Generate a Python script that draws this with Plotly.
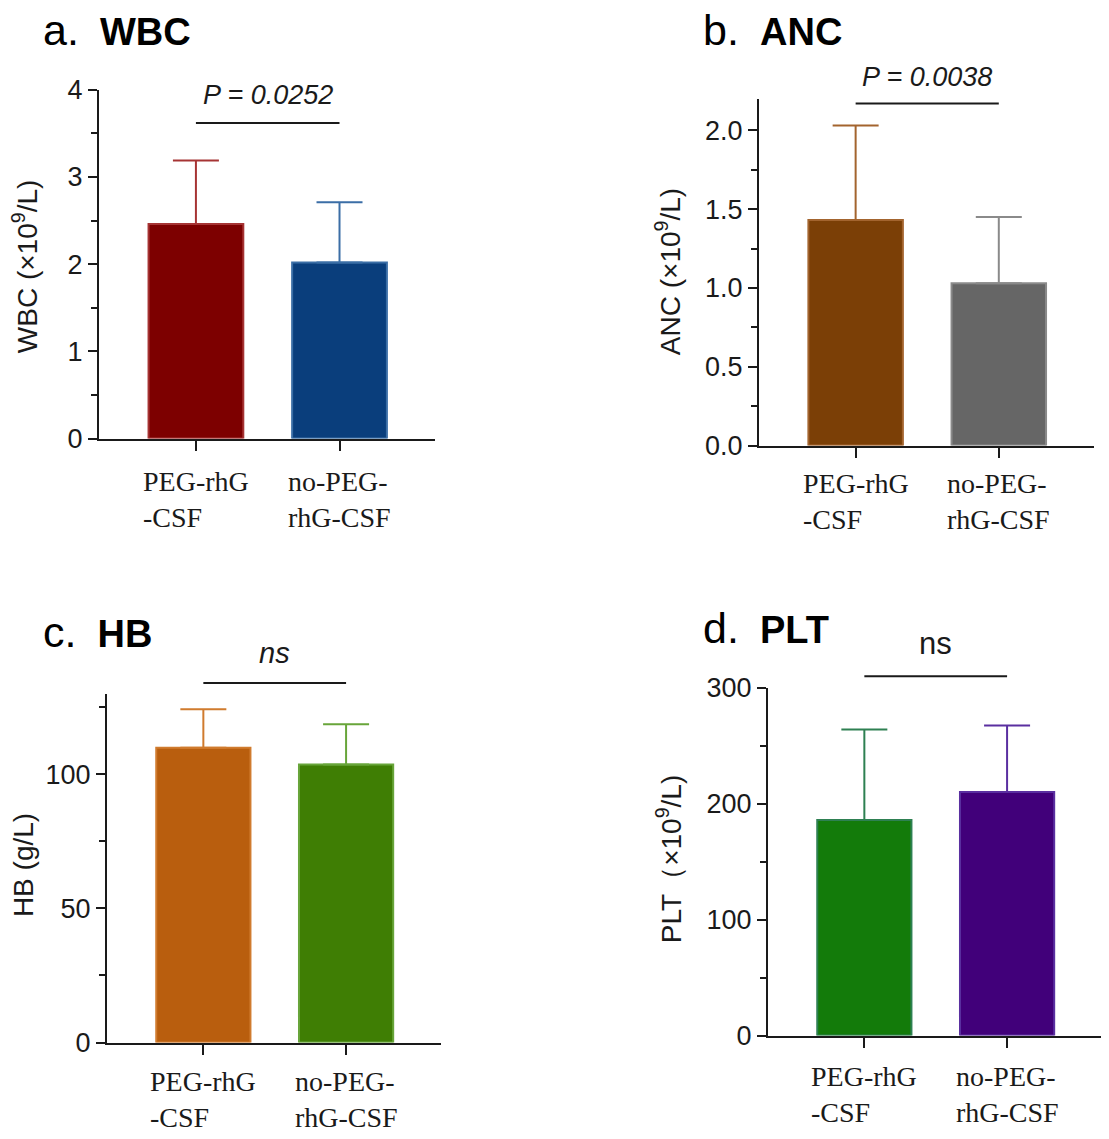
import plotly.graph_objects as go

# canvas size in px
W, H = 1109, 1139

# groups compared in every panel
groups = ["PEG-rhG-CSF", "no-PEG-rhG-CSF"]
group_labels = ["PEG-rhG<br>-CSF", "no-PEG-<br>rhG-CSF"]

# mean and upper SD
wbc_mean = [2.46, 2.02]
wbc_sd = [0.73, 0.69]
anc_mean = [1.43, 1.03]
anc_sd = [0.60, 0.42]
hb_mean = [109.9, 103.6]
hb_sd = [14.3, 15.0]
plt_mean = [186, 210]
plt_sd = [78, 57.5]

# significance labels
p_labels = ["<i>P = 0.0252</i>", "<i>P = 0.0038</i>", "<i>ns</i>", "ns"]

# the page gets photographed with a small offset / squeeze, correct for it
OFF_X, OFF_Y, SQ_Y = 7, 21, 0.977


def fx(px):
    return (px - OFF_X) / W


def fy(py):
    return 1 - (py - OFF_Y) / SQ_Y / H


SANS = "Liberation Sans, Arial, sans-serif"
SERIF = "Liberation Serif, Times New Roman, serif"
INK = "#1a1a1a"

# one dict per panel: data + where it sits on the page
panels = [
    dict(tag="a.", name="WBC", ytitle="WBC (×10<sup>9</sup>/L)",
         mean=wbc_mean, sd=wbc_sd, ymax=4, dtick=1, minor=0.5, fmt="",
         fill=["#7d0000", "#0a3e7c"], edge=["#a63434", "#3b6ea6"],
         box=(98, 434, 88, 438), title_xy=(40, 28), ytitle_xy=(24, 265), lab_gap=26,
         sig_y=3.62, sig_txt=3.94, sig_size=27),
    dict(tag="b.", name="ANC", ytitle="ANC (×10<sup>9</sup>/L)",
         mean=anc_mean, sd=anc_sd, ymax=2.2, dtick=0.5, minor=0.25, fmt=".1f",
         fill=["#7b3f06", "#666666"], edge=["#a3642e", "#8a8a8a"],
         box=(758, 1093, 97, 445), title_xy=(700, 28), ytitle_xy=(667, 271), lab_gap=21,
         sig_y=2.17, sig_txt=2.34, sig_size=27),
    dict(tag="c.", name="HB", ytitle="HB (g/L)",
         mean=hb_mean, sd=hb_sd, ymax=130, dtick=50, minor=25, fmt="",
         fill=["#b95e0e", "#3f7e04"], edge=["#d07b2e", "#68a53a"],
         box=(106, 440, 694, 1044), title_xy=(40, 632), ytitle_xy=(22, 866), lab_gap=22,
         sig_y=134, sig_txt=145, sig_size=29),
    dict(tag="d.", name="PLT", ytitle="PLT（×10<sup>9</sup>/L)",
         mean=plt_mean, sd=plt_sd, ymax=300, dtick=100, minor=50, fmt="",
         fill=["#137b0a", "#41007a"], edge=["#2e8052", "#5a2fa0"],
         box=(767, 1101, 688, 1037), title_xy=(700, 628), ytitle_xy=(668, 860), lab_gap=24,
         sig_y=310, sig_txt=338, sig_size=31),
]

fig = go.Figure()
annotations = []
shapes = []

for i, p in enumerate(panels):
    n = "" if i == 0 else str(i + 1)
    xref, yref = "x" + n, "y" + n

    # one trace per bar so each error bar gets its own colour
    for j in range(len(groups)):
        fig.add_trace(go.Bar(
            x=[groups[j]], y=[p["mean"][j]], width=0.66,
            marker=dict(color=p["fill"][j], line=dict(color=p["edge"][j], width=2)),
            error_y=dict(type="data", symmetric=False, array=[p["sd"][j]], arrayminus=[0],
                         color=p["edge"][j], thickness=2, width=23),
            xaxis=xref, yaxis=yref, showlegend=False, hoverinfo="skip",
        ))

    x0, x1, ytop, ybot = p["box"]
    fig.update_layout(**{
        "xaxis" + n: dict(
            domain=[fx(x0), fx(x1)], anchor=yref, type="category",
            categoryorder="array", categoryarray=groups,
            range=[-0.675, 1.665], showline=True, linecolor=INK, linewidth=2,
            ticks="outside", ticklen=10, tickwidth=2, tickcolor=INK,
            showticklabels=False, showgrid=False, zeroline=False, fixedrange=True,
        ),
        "yaxis" + n: dict(
            domain=[fy(ybot), fy(ytop)], anchor=xref, range=[0, p["ymax"]],
            dtick=p["dtick"], tick0=0, tickformat=p["fmt"],
            showline=True, linecolor=INK, linewidth=2,
            ticks="outside", ticklen=9, tickwidth=2, tickcolor=INK,
            minor=dict(dtick=p["minor"], ticks="outside", ticklen=6, tickwidth=2, tickcolor=INK),
            tickfont=dict(family=SANS, size=27, color=INK),
            showgrid=False, zeroline=False, fixedrange=True,
        ),
    })

    # panel heading
    annotations.append(dict(
        text='<span style="font-size:43px">' + p["tag"] + "</span>&nbsp; <b>" + p["name"] + "</b>",
        x=fx(p["title_xy"][0]), y=fy(p["title_xy"][1]), xref="paper", yref="paper",
        xanchor="left", yanchor="middle", showarrow=False,
        font=dict(family=SANS, size=38, color="#000000"),
    ))
    # y axis title
    annotations.append(dict(
        text=p["ytitle"], textangle=-90,
        x=fx(p["ytitle_xy"][0]), y=fy(p["ytitle_xy"][1]), xref="paper", yref="paper",
        xanchor="center", yanchor="middle", showarrow=False,
        font=dict(family=SANS, size=28, color=INK),
    ))
    # group labels under the x axis, left aligned lines
    for j, lab in enumerate(group_labels):
        annotations.append(dict(
            text=lab, align="left", x=j, xref=xref,
            y=fy(ybot + p["lab_gap"]), yref="paper", xanchor="center", yanchor="top",
            showarrow=False, font=dict(family=SERIF, size=28, color=INK),
        ))
    # significance bracket and label
    shapes.append(dict(
        type="line", xref=xref, yref=yref + " domain",
        x0=0, x1=1, y0=p["sig_y"] / p["ymax"], y1=p["sig_y"] / p["ymax"],
        line=dict(color=INK, width=2),
    ))
    annotations.append(dict(
        text=p_labels[i], x=0.5, xref=xref,
        y=p["sig_txt"] / p["ymax"], yref=yref + " domain",
        xanchor="center", yanchor="middle", showarrow=False,
        font=dict(family=SANS, size=p["sig_size"], color=INK),
    ))

fig.update_layout(
    width=W, height=H,
    margin=dict(l=0, r=0, t=0, b=0),
    paper_bgcolor="white", plot_bgcolor="white",
    barmode="overlay",
    annotations=annotations, shapes=shapes,
)

fig.write_html("out.html")
